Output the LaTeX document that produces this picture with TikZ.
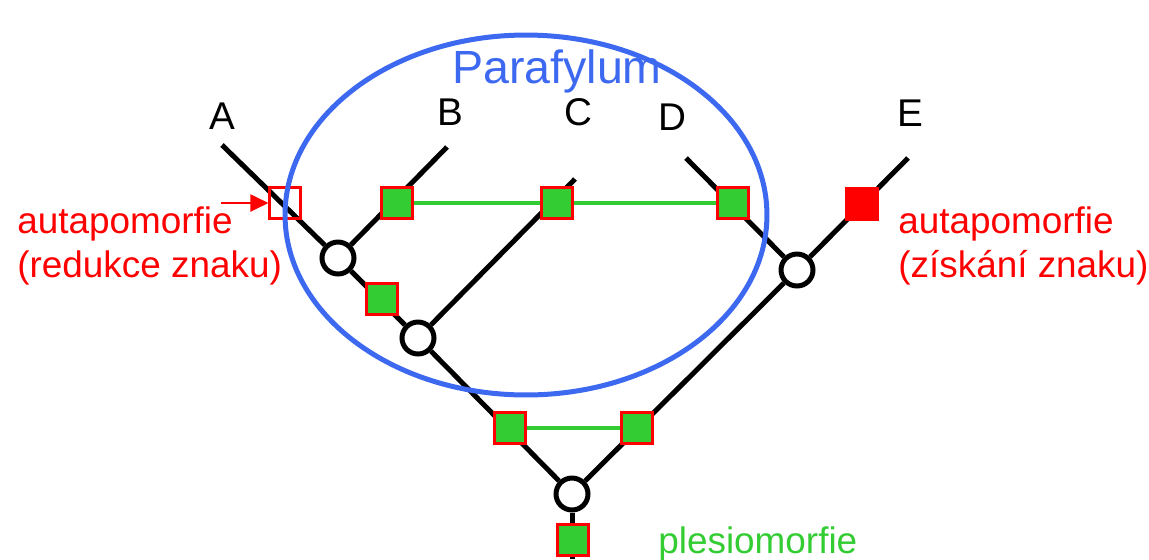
\documentclass[tikz,border=0pt]{standalone}
\usepackage{fontspec}
\setmainfont{Liberation Sans}
\usetikzlibrary{arrows.meta}
\definecolor{trgreen}{RGB}{51,204,51}
\definecolor{trblue}{RGB}{61,105,240}

\begin{document}
\begin{tikzpicture}[x = 0.02cm, y = -0.02cm,
    branch/.style = {line width = 0.1cm},
    knot/.style = {shape = circle, draw, fill = white, line width = 0.1cm,
        minimum size = 0.64cm, inner sep = 0pt},
    trait/.style = {shape = rectangle, draw = red, fill = trgreen, line width = 1.2pt,
        minimum size = 0.62cm, inner sep = 0pt},
    link/.style = {trgreen, line width = 0.08cm},
    taxon/.style = {font = \fontsize{22}{26}\selectfont, inner sep = 0pt, anchor = base},
    note/.style = {red, font = \fontsize{21}{25}\selectfont, align = left,
        inner sep = 0pt, anchor = base west}]
    \useasboundingbox (0,0) rectangle (1149,559);

    % tips of the tree
    \coordinate (tA) at (222,145);
    \coordinate (tB) at (447,147);
    \coordinate (tC) at (575,179);
    \coordinate (tD) at (686,158);
    \coordinate (tE) at (908,158);
    \coordinate (tRoot) at (572,559);

    % inner nodes
    \node[knot] (N1) at (338,258) {};
    \node[knot] (N2) at (418,338) {};
    \node[knot] (N3) at (797,270) {};
    \node[knot] (R) at (572,494) {};

    \draw[branch] (tA) -- (N1) -- (N2) -- (R) -- (N3) -- (tE);
    \draw[branch] (N1) -- (tB);
    \draw[branch] (N2) -- (tC);
    \draw[branch] (N3) -- (tD);
    \draw[branch] (R) -- (tRoot);

    % characters
    \node[trait, fill = none] (sqA) at (285,203) {};
    \node[trait] (sqB) at (397,203) {};
    \node[trait] (sqC) at (557,203) {};
    \node[trait] (sqD) at (733,203) {};
    \node[trait] (sqL) at (382,299) {};
    \node[trait] (sqRL) at (510,428) {};
    \node[trait] (sqRR) at (637,428) {};
    \node[trait] (sqRoot) at (573,540) {};
    \node[trait, fill = red] (sqE) at (862,204) {};

    \draw[link] (sqB) -- (sqC) -- (sqD);
    \draw[link] (sqRL) -- (sqRR);

    \draw[trblue, line width = 0.1cm] (526,215) ellipse [x radius = 4.82cm, y radius = 3.6cm];

    % labels
    \node[taxon] (lA) at (222,129) {A};
    \node[taxon] (lB) at (450,125) {B};
    \node[taxon] (lC) at (578,125) {C};
    \node[taxon] (lD) at (672,130) {D};
    \node[taxon] (lE) at (910,126) {E};
    \node[trblue, font = \fontsize{26.5}{30}\selectfont, inner sep = 0pt, anchor = base]
        (lPara) at (557,83) {Parafylum};
    \node[note] (nLeft) at (17,277) {autapomorfie\\(redukce znaku)};
    \node[note] (nRight) at (898,277) {autapomorfie\\(získání znaku)};
    \node[note, trgreen] (nRoot) at (658,553) {plesiomorfie};

    \coordinate (aL) at (221,203);
    \draw[red, line width = 0.04cm, -{Triangle[length = 0.36cm, width = 0.34cm]}] (aL) -- (sqA);
\end{tikzpicture}
\end{document}
